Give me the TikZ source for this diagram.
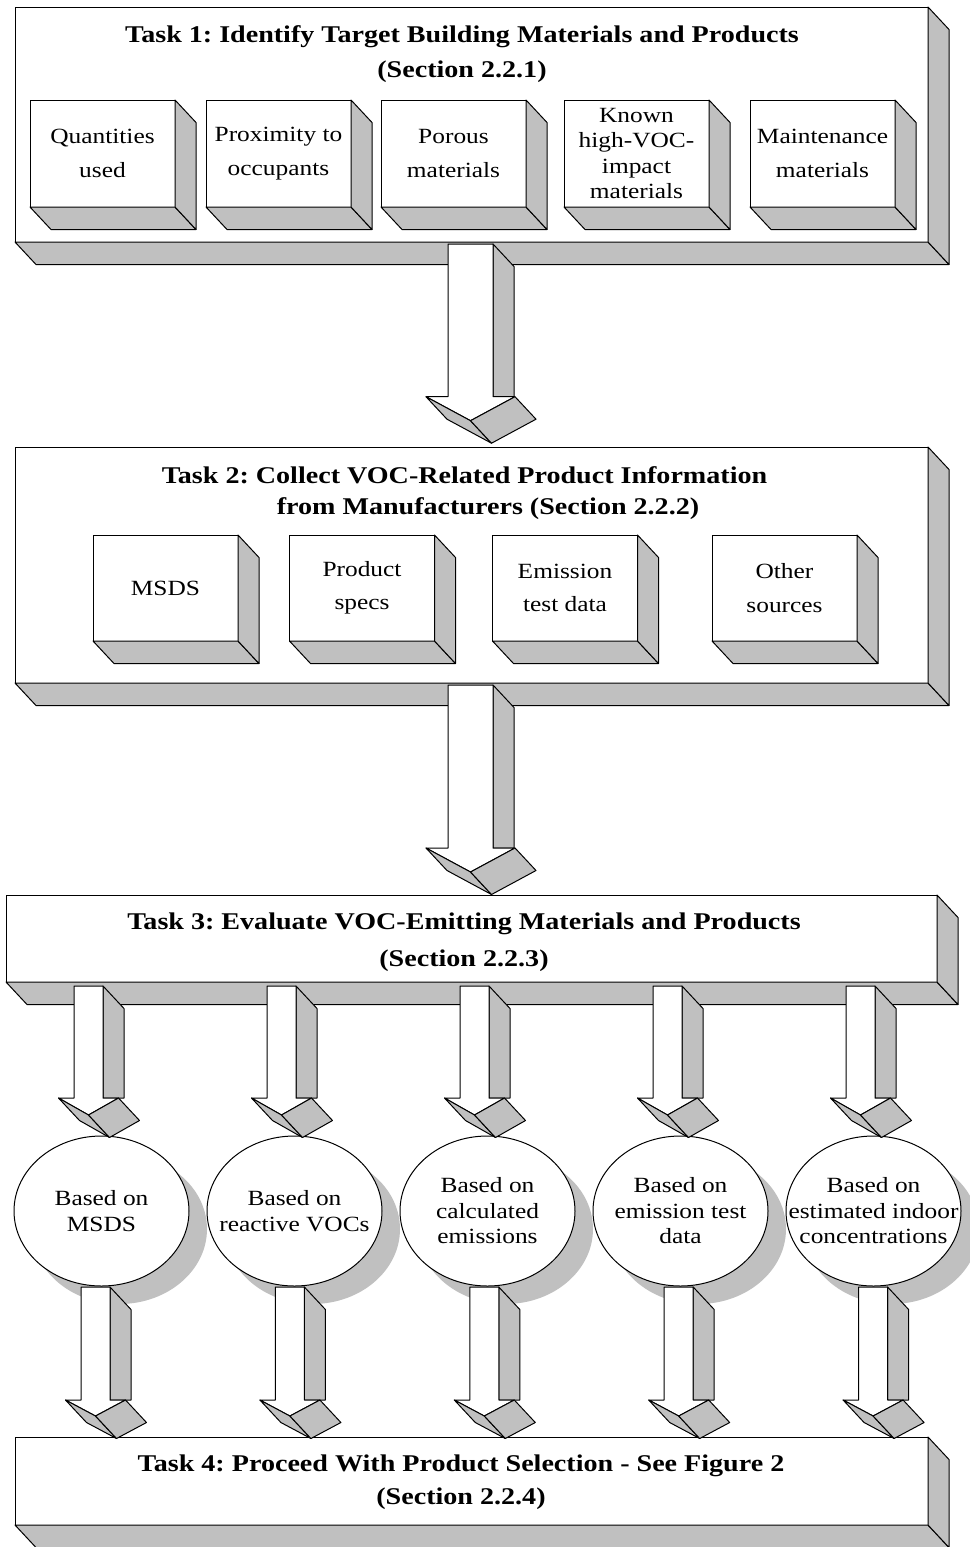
\documentclass[tikz,border=0pt]{standalone}
\usepackage{fontspec}
\setmainfont{Liberation Serif}[FakeStretch=1.17]
\usetikzlibrary{shapes.geometric,shadows}
\definecolor{shgray}{HTML}{C0C0C0}
\frenchspacing
\newcommand\boxfont{\fontsize{21.7}{25.5}\selectfont}
\newcommand\titlefont{\bfseries\fontsize{24}{28}\selectfont}
\tikzset{
 face/.style={fill=shgray, draw=black, line width=1pt, line join=round},
 front/.style={fill=white, draw=black, line width=1pt, line join=round},
 bigbox/.style={front, rectangle, inner sep=0pt, outer sep=0pt},
 smallbox/.style={front, rectangle, inner sep=0pt, outer sep=0pt, minimum width=145pt, minimum height=107pt, align=center, font=\boxfont},
 titletext/.style={anchor=base, font=\titlefont, inner sep=0pt},
 circ/.style={ellipse, front, minimum width=175pt, minimum height=150pt, inner sep=0pt, outer sep=0pt,
   drop shadow={shadow xshift=18pt, shadow yshift=-18pt, fill=shgray, opacity=1, draw=none}},
 ctext/.style={align=center, font=\boxfont, inner sep=0pt}
}
\newcommand\boxfaces[1]{%
 \draw[face] (#1.south west) -- (#1.south east) -- ([shift={(21,22.5)}]#1.south east) -- ([shift={(21,22.5)}]#1.south west) -- cycle;
 \draw[face] (#1.north east) -- ([shift={(21,22.5)}]#1.north east) -- ([shift={(21,22.5)}]#1.south east) -- (#1.south east) -- cycle;}
% cx, ytop, ybot, half shaft, half head, head drop
\newcommand\blockarrow[6]{%
 \pgfmathsetmacro\arL{#1-#4}%
 \pgfmathsetmacro\arR{#1+#4}%
 \pgfmathsetmacro\arRd{#1+#4+21}%
 \pgfmathsetmacro\arTd{#2+22.5}%
 \pgfmathsetmacro\hdL{#1-#5}%
 \pgfmathsetmacro\hdR{#1+#5}%
 \pgfmathsetmacro\hdC{#3+#6}%
 \draw[face] (\arR,#2) -- (\arRd,\arTd) -- (\arRd,#3) -- (\arR,#3) -- cycle;
 \draw[front] (\arL,#2) -- (\arL,#3) -- (\hdL,#3) -- (#1,\hdC) -- (\hdR,#3) -- (\arR,#3) -- (\arR,#2) -- cycle;
 \draw[face] (\hdL,#3) -- (#1,\hdC) -- ++(21,22.5) -- ({\hdL+21},{#3+22.5}) -- cycle;
 \draw[face] (#1,\hdC) -- (\hdR,#3) -- ++(21,22.5) -- ({#1+21},{\hdC+22.5}) -- cycle;}
\begin{document}
\begin{tikzpicture}[x=1pt,y=-1pt]
\useasboundingbox (0,0) rectangle (969,1547);

% ---------- Task 1
\node[bigbox, minimum width=913pt, minimum height=235pt] (task1) at (471.5,124.5) {};
\boxfaces{task1}
\node[titletext] (t1l1) at (462,42) {Task 1: Identify Target Building Materials and Products};
\node[titletext] (t1l2) at (462,77) {(Section 2.2.1)};
\node[smallbox] (t1a) at (102.5,153.5) {Quantities\\[8pt]used};
\node[smallbox] (t1b) at (278.5,153.5) {Proximity to\\[8pt]occupants};
\node[smallbox] (t1c) at (453.5,153.5) {Porous\\[8pt]materials};
\node[smallbox] (t1d) at (636.5,153.5) {Known\\high-VOC-\\impact\\materials};
\node[smallbox] (t1e) at (822.5,153.5) {Maintenance\\[8pt]materials};
\foreach \n in {t1a,t1b,t1c,t1d,t1e}{\boxfaces{\n}}

% ---------- Task 2
\node[bigbox, minimum width=913pt, minimum height=236pt] (task2) at (471.5,565) {};
\boxfaces{task2}
\node[titletext] (t2l1) at (464.5,483) {Task 2: Collect VOC-Related Product Information};
\node[titletext] (t2l2) at (488,514) {from Manufacturers (Section 2.2.2)};
\node[smallbox, minimum height=106pt] (t2a) at (165.5,588) {MSDS};
\node[smallbox, minimum height=106pt] (t2b) at (362,588) {Product\\[8pt]specs};
\node[smallbox, minimum height=106pt] (t2c) at (565,588) {Emission\\[8pt]test data};
\node[smallbox, minimum height=106pt] (t2d) at (784.5,588) {Other\\[8pt]sources};
\foreach \n in {t2a,t2b,t2c,t2d}{\boxfaces{\n}}

% ---------- Task 3
\node[bigbox, minimum width=931pt, minimum height=87pt] (task3) at (471.5,938.5) {};
\boxfaces{task3}
\node[titletext] (t3l1) at (464,929) {Task 3: Evaluate VOC-Emitting Materials and Products};
\node[titletext] (t3l2) at (464,966) {(Section 2.2.3)};

% ---------- Task 4
\node[bigbox, minimum width=913pt, minimum height=88pt] (task4) at (471.5,1481) {};
\boxfaces{task4}
\node[titletext] (t4l1) at (461,1471) {Task 4: Proceed With Product Selection - See Figure 2};
\node[titletext] (t4l2) at (461,1504) {(Section 2.2.4)};

% ---------- circles
\node[circ] (c1) at (101.5,1211) {};
\node[circ] (c2) at (294.5,1211) {};
\node[circ] (c3) at (487.5,1211) {};
\node[circ] (c4) at (680.5,1211) {};
\node[circ] (c5) at (873.5,1211) {};
\node[ctext] (c1t) at (c1.center) {Based on\\MSDS};
\node[ctext] (c2t) at (c2.center) {Based on\\reactive VOCs};
\node[ctext] (c3t) at (c3.center) {Based on\\calculated\\emissions};
\node[ctext] (c4t) at (c4.center) {Based on\\emission test\\data};
\node[ctext] (c5t) at (c5.center) {Based on\\estimated indoor\\concentrations};

% ---------- arrows
\blockarrow{470.5}{244}{396.7}{22.5}{44.5}{24}
\blockarrow{470.5}{685}{848}{22.5}{44.5}{24}
\foreach \cx in {88.5,281.5,474.5,667.5,860.5}{\blockarrow{\cx}{986}{1098}{14.5}{30}{17}}
\foreach \cx in {95.5,289.9,484.3,678.7,873.1}{\blockarrow{\cx}{1287}{1400}{14.5}{30}{16}}
\end{tikzpicture}
\end{document}
